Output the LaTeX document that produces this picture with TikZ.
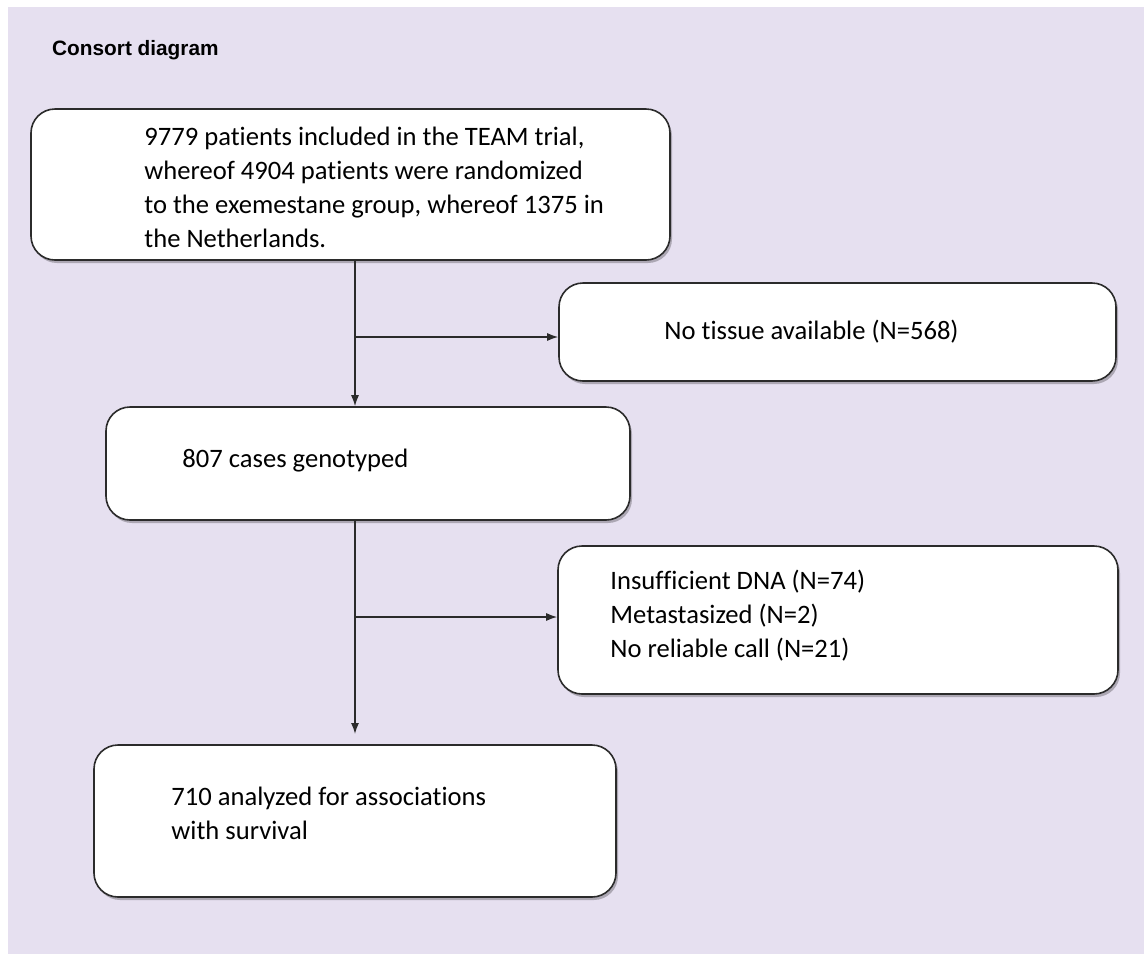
\documentclass[tikz,border=0pt]{standalone}
\usepackage{fontspec}
\setmainfont[Ligatures=CommonOff]{Carlito}
\newfontfamily\titlefont{Liberation Sans}
\usetikzlibrary{positioning,arrows.meta,shadows,calc}
\definecolor{cbg}{HTML}{E6E0F0}
\definecolor{cline}{HTML}{2B2B2B}
\tikzset{
  box/.style={draw=cline, line width=1.6pt, rounded corners=24pt, fill=white,
    drop shadow={shadow xshift=2pt, shadow yshift=-3pt, opacity=0.25, fill=black}},
  txt/.style={inner sep=0pt, align=left, font=\fontsize{26.6}{34}\selectfont, anchor=west},
  sig/.style={-{Latex[length=11pt, width=8pt]}, line width=1.4pt, draw=cline},
}
\begin{document}
\begin{tikzpicture}[x=1pt, y=-1pt, node distance=0pt]
  \useasboundingbox (0,0) rectangle (1144,954);
  \fill[cbg] (8,7) rectangle (1144,954);
  \node[anchor=west, inner sep=0pt, font=\titlefont\bfseries\fontsize{20.8}{24}\selectfont] (title) at (52,50) {Consort diagram};
  % boxes
  \node[box, minimum width=639pt, minimum height=151pt] (trial) at (350.5,184.5) {};
  \node[box, minimum width=557pt, minimum height=98pt] (notissue) at (837.5,332) {};
  \node[box, minimum width=524pt, minimum height=113pt] (geno) at (368,463.5) {};
  \node[box, minimum width=560pt, minimum height=148pt] (excl) at (838,620) {};
  \node[box, minimum width=522pt, minimum height=152pt] (anal) at (355,821) {};
  % texts
  \node[txt, right=114pt of trial.west, yshift=-3pt] (ttrial) {9779 patients included in the TEAM trial,\\whereof 4904 patients were randomized\\to the exemestane group, whereof 1375 in\\the Netherlands.};
  \node[txt, right=106pt of notissue.west] (tnotissue) {No tissue available (N=568)};
  \node[txt, right=77pt of geno.west, yshift=3pt] (tgeno) {807 cases genotyped};
  \node[txt, right=53pt of excl.west, yshift=4pt] (texcl) {Insufficient DNA (N=74)\\Metastasized (N=2)\\No reliable call (N=21)};
  \node[txt, right=78pt of anal.west, yshift=8pt] (tanal) {710 analyzed for associations\\with survival};
  % connectors
  \coordinate (spine) at (355,0);
  \coordinate (stop) at (355,734);
  \draw[sig] (trial.south -| spine) -- (geno.north -| spine);
  \draw[sig] ($(notissue.west -| spine)+(0,5)$) -- ($(notissue.west)+(0,5)$);
  \draw[sig] (geno.south -| spine) -- (stop);
  \draw[sig] ($(excl.west -| spine)+(0,-3)$) -- ($(excl.west)+(0,-3)$);
\end{tikzpicture}
\end{document}
